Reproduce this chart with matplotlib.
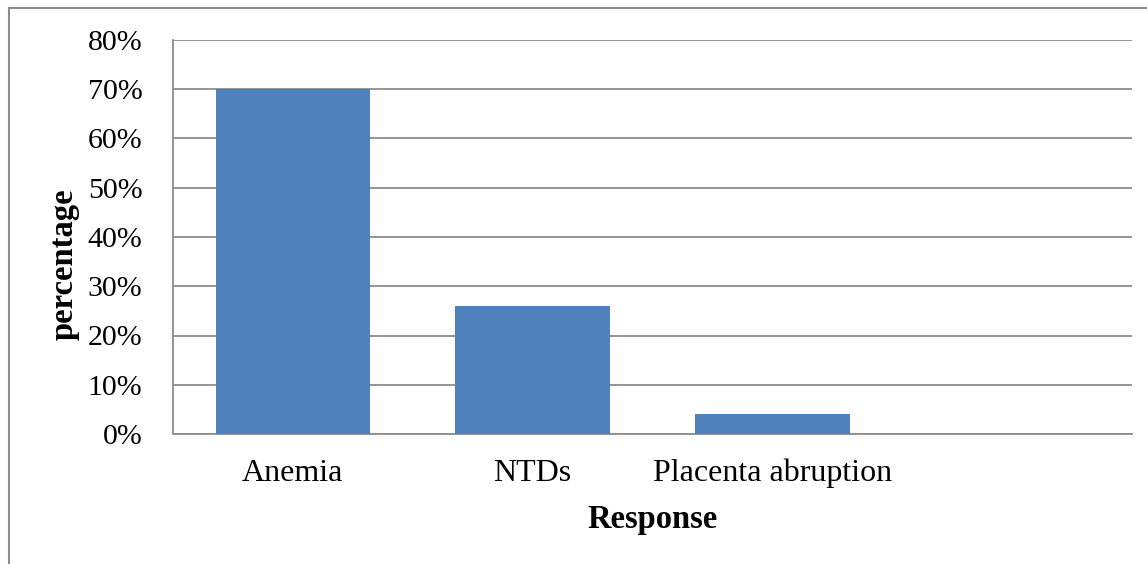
import matplotlib.pyplot as plt
from matplotlib.lines import Line2D

categories = ['Anemia', 'NTDs', 'Placenta abruption', '']
values = [70, 26, 4, 0]
yticks = [0, 10, 20, 30, 40, 50, 60, 70, 80]

plt.rcParams['font.family'] = ['Liberation Serif', 'DejaVu Serif']

fig = plt.figure(figsize=(11.47, 5.64), dpi=100)
ax = fig.add_axes([173/1147, 1-434/564, (1132-173)/1147, (434-40)/564])

x = range(len(categories))
ax.bar(x, values, width=0.645, color='#4F81BD', zorder=3)
ax.set_xlim(-0.5, len(categories) - 0.5)
ax.set_ylim(0, 80)
ax.set_yticks(yticks)
ax.set_yticklabels([f'{v}%' for v in yticks])
ax.set_xticks(list(x))
ax.set_xticklabels(categories)
ax.tick_params(axis='both', length=0)
ax.tick_params(axis='y', pad=22, labelsize=21.5)
ax.tick_params(axis='x', pad=18, labelsize=23)

ax.grid(axis='y', color='#8c8c8c', linewidth=1.3, zorder=0)
for s in ['top', 'right']:
    ax.spines[s].set_visible(False)
for s in ['left', 'bottom']:
    ax.spines[s].set_color('#8c8c8c')
    ax.spines[s].set_linewidth(1.3)

ax.set_xlabel('Response', fontsize=23.5, fontweight='bold', labelpad=11)
ax.set_ylabel('percentage', fontsize=23.5, fontweight='bold')
ax.yaxis.set_label_coords(-0.097, 0.43)

# outer frame (left and top edges)
fig.add_artist(Line2D([8.5/1147, 8.5/1147], [0, 1-8/564], transform=fig.transFigure,
                      color='#8c8c8c', linewidth=1.5))
fig.add_artist(Line2D([8.5/1147, 1], [1-8/564, 1-8/564], transform=fig.transFigure,
                      color='#8c8c8c', linewidth=1.5))

fig.savefig('out.png', dpi=100, facecolor='white')
